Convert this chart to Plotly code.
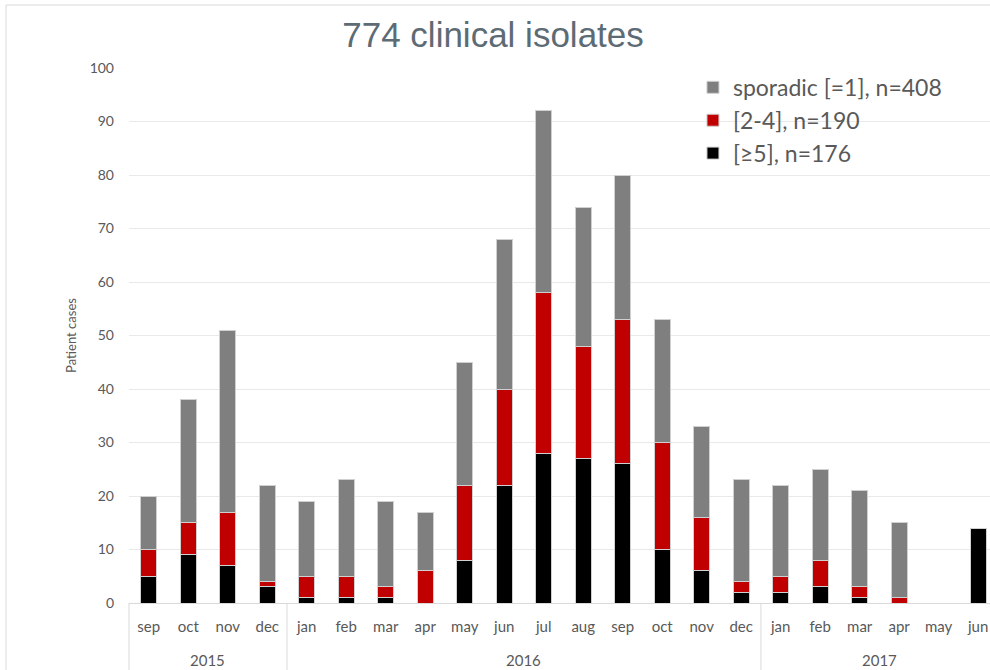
import plotly.graph_objects as go

years = ["2015"] * 4 + ["2016"] * 12 + ["2017"] * 6
months = ["sep", "oct", "nov", "dec",
          "jan", "feb", "mar", "apr", "may", "jun", "jul", "aug", "sep", "oct", "nov", "dec",
          "jan", "feb", "mar", "apr", "may", "jun"]

black_ge5 = [5, 9, 7, 3, 1, 1, 1, 0, 8, 22, 28, 27, 26, 10, 6, 2, 2, 3, 1, 0, 0, 14]
red_2_4 = [5, 6, 10, 1, 4, 4, 2, 6, 14, 18, 30, 21, 27, 20, 10, 2, 3, 5, 2, 1, 0, 0]
gray_sporadic = [10, 23, 34, 18, 14, 18, 16, 11, 23, 28, 34, 26, 27, 23, 17, 19, 17, 17, 18, 14, 0, 0]

names = ["[≥5], n=176", "[2-4], n=190", "sporadic [=1], n=408"]
colors = ["#000000", "#c00000", "#7f7f7f"]
ranks = [3, 2, 1]
series = [black_ge5, red_2_4, gray_sporadic]

LBL = "#595959"
FONT = "Lato, 'Open Sans', sans-serif"
GRID = "#e9e9e9"
LINE = "#d9d9d9"

idx = list(range(len(months)))
XR = [-0.5, 21.3]

fig = go.Figure()
for nm, col, vals, rk in zip(names, colors, series, ranks):
    fig.add_trace(go.Bar(
        x=idx, y=vals, name=nm, legendrank=rk,
        marker=dict(color=col, line=dict(color="#d0d0d0", width=1)),
        legendgroup=nm,
    ))

fig.update_layout(
    width=990, height=670,
    barmode="stack", bargap=0.595,
    plot_bgcolor="white", paper_bgcolor="white",
    margin=dict(l=129, r=0, t=68, b=67),
    font=dict(family=FONT, color=LBL, size=14),
    title=dict(text="774 clinical isolates", x=0.498, xanchor="center", xref="container",
               y=0.948, yanchor="middle", yref="container",
               font=dict(family="'Liberation Sans Narrow', 'Liberation Sans', sans-serif",
                         size=35, color="#5d6b75")),
    legend=dict(x=0.655, y=1.004, xanchor="left", yanchor="top",
                traceorder="grouped", tracegroupgap=0,
                font=dict(size=23, color=LBL, family=FONT),
                bgcolor="rgba(0,0,0,0)", itemwidth=30),
    showlegend=True,
)

fig.update_xaxes(
    range=XR, tickmode="array", tickvals=idx, ticktext=months,
    showgrid=False, zeroline=False, showline=True, linecolor=LINE, linewidth=1,
    ticks="", ticklabelstandoff=10, tickfont=dict(size=15, color=LBL, family=FONT),
)
fig.update_yaxes(
    range=[0, 100], dtick=10, showgrid=True, gridcolor=GRID, gridwidth=1,
    zeroline=False, showline=False, ticks="", ticklabelstandoff=14,
    tickfont=dict(size=14, color=LBL, family=FONT),
    title=dict(text="Patient cases", font=dict(size=13, color=LBL, family=FONT), standoff=10),
)

# year groups: labels and dividers derived from the category data
span = XR[1] - XR[0]
groups = []
for i, yr in enumerate(years):
    if not groups or groups[-1][0] != yr:
        groups.append([yr, i, i])
    else:
        groups[-1][2] = i
for yr, a, b in groups:
    fig.add_annotation(x=(a + b) / 2, xref="x", y=-0.1065, yref="paper",
                       text=yr, showarrow=False, yanchor="middle",
                       font=dict(size=15, color=LBL, family=FONT))
    xb = (a - 0.5 - XR[0]) / span
    fig.add_shape(type="line", xref="paper", yref="paper", x0=xb, x1=xb,
                  y0=0, y1=-0.14, line=dict(color=LINE, width=1))

# outer chart border
fig.add_shape(type="rect", xref="paper", yref="paper",
              x0=(6 - 129) / 861, x1=1.05, y0=-0.3, y1=(603 - 5) / 535,
              line=dict(color=LINE, width=1), fillcolor="rgba(0,0,0,0)", layer="below")

fig.write_html("out.html", config={"displayModeBar": False},
               post_script="document.body.style.margin='0';document.body.style.overflow='hidden';")
